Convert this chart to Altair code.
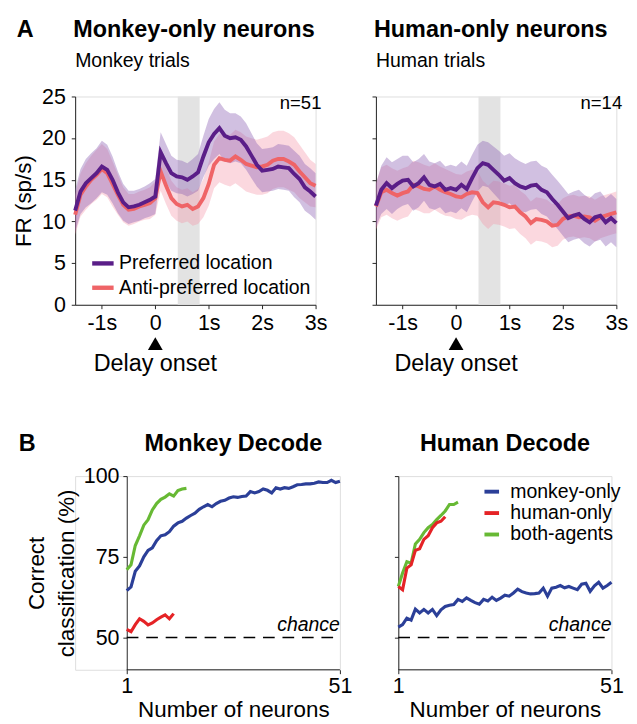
import altair as alt
import pandas as pd

FONT = "Liberation Sans"
PURPLE = "#5a1e88"
SALMON = "#ef6467"
PURPLE_BAND = "#8b62b3"
SALMON_BAND = "#f48fa3"
BLUE = "#2b3f98"
RED = "#e52326"
GREEN = "#67b934"

# ---------------- Panel A data (firing rate, sp/s) ----------------
TIME = [-1.5, -1.4, -1.3, -1.2, -1.1, -1.0, -0.9, -0.8, -0.7, -0.6, -0.5, -0.4, -0.3, -0.2, -0.1,
        0.0, 0.1, 0.2, 0.3, 0.4, 0.5, 0.6, 0.7, 0.8, 0.9, 1.0, 1.1, 1.2, 1.3, 1.4, 1.5, 1.6, 1.7,
        1.8, 1.9, 2.0, 2.1, 2.2, 2.3, 2.4, 2.5, 2.6, 2.7, 2.8, 2.9, 3.0]

MONKEY_PREF = [11.3, 13.6, 14.6, 15.2, 15.8, 16.6, 16.2, 15.0, 13.5, 12.3, 11.7, 11.8, 12.0, 12.3, 12.6,
               13.0, 18.3, 17.0, 15.8, 15.4, 15.3, 15.0, 15.4, 15.9, 17.8,
               19.5, 20.5, 21.2, 20.3, 20.0, 20.1, 19.8, 19.0, 17.9, 16.8,
               16.1, 16.2, 16.3, 16.6, 16.5, 16.4, 15.7, 15.1, 14.1, 13.6, 13.0]
MONKEY_ANTI = [10.8, 13.2, 14.2, 15.0, 15.6, 16.3, 15.8, 14.5, 13.2, 12.0, 11.4, 11.5, 11.8, 12.0, 12.2,
               12.8, 16.0, 14.3, 12.8, 12.1, 11.8, 12.0, 11.5, 11.8, 12.8,
               14.5, 16.8, 17.6, 17.4, 17.3, 17.8, 17.4, 16.9, 16.7, 16.5,
               16.6, 16.8, 17.3, 17.5, 17.5, 17.2, 16.8, 16.0, 15.3, 14.6, 14.3]
MONKEY_PREF_SEM = [2.5, 2.7, 2.9, 3.0, 3.0, 3.1, 3.0, 2.8, 2.5, 2.2, 2.0, 1.9, 1.9, 1.9, 2.0,
                   2.1, 2.4, 2.3, 2.1, 2.0, 2.0, 2.0, 2.1, 2.2, 2.5,
                   2.8, 3.0, 3.1, 3.1, 3.0, 2.9, 2.8, 2.8, 2.7, 2.6,
                   2.6, 2.6, 2.6, 2.7, 2.7, 2.7, 2.8, 2.8, 2.8, 2.8, 2.8]
MONKEY_ANTI_SEM = [2.4, 2.6, 2.8, 2.9, 3.0, 3.0, 2.9, 2.7, 2.4, 2.1, 1.9, 1.8, 1.8, 1.8, 1.9,
                   2.0, 2.3, 2.2, 2.1, 2.0, 2.0, 2.0, 2.0, 2.1, 2.3,
                   2.6, 2.8, 2.9, 3.0, 3.1, 3.2, 3.3, 3.3, 3.3, 3.3,
                   3.4, 3.4, 3.4, 3.4, 3.4, 3.4, 3.3, 3.2, 3.0, 2.8, 2.6]

HUMAN_PREF = [11.9, 13.8, 14.6, 14.0, 14.5, 14.9, 15.0, 14.2, 14.6, 15.3, 14.4, 14.2, 14.5, 13.8, 14.0,
              13.8, 14.4, 13.9, 15.2, 16.4, 17.0, 16.8, 16.2, 15.6, 14.9,
              15.2, 14.6, 14.2, 14.0, 14.3, 14.4, 13.8, 13.5, 12.7, 12.0,
              11.2, 10.4, 10.7, 10.9, 10.3, 9.9, 10.5, 10.7, 9.9, 10.4, 9.8]
HUMAN_ANTI = [11.8, 13.5, 13.8, 13.4, 13.1, 13.4, 13.6, 14.4, 14.2, 13.9, 13.8, 14.2, 13.8, 13.5, 13.3,
              13.0, 12.9, 13.3, 13.5, 13.4, 12.3, 11.7, 12.3, 12.2, 12.0,
              11.7, 11.8, 11.1, 10.6, 9.8, 10.3, 10.2, 10.0, 9.5, 9.6,
              10.3, 10.6, 10.7, 10.5, 10.6, 10.5, 10.1, 10.5, 10.7, 10.9, 11.1]
HUMAN_PREF_SEM = [2.6, 2.9, 3.1, 3.1, 3.0, 3.0, 2.9, 2.9, 2.9, 2.8, 2.8, 2.8, 2.8, 2.8, 2.8,
                  2.8, 2.8, 2.8, 2.8, 2.8, 2.7, 2.7, 2.8, 2.9, 3.0,
                  3.0, 3.0, 3.0, 2.9, 2.9, 2.9, 2.9, 2.9, 2.9, 2.9,
                  2.9, 2.9, 2.9, 2.9, 2.9, 2.9, 2.9, 2.9, 2.9, 2.9, 2.9]
HUMAN_ANTI_SEM = [2.8, 3.0, 3.0, 3.0, 3.0, 3.0, 3.0, 2.9, 2.9, 2.9, 2.8, 2.8, 2.8, 2.8, 2.7,
                  2.7, 2.7, 2.7, 2.7, 2.7, 2.6, 2.6, 2.6, 2.6, 2.6,
                  2.6, 2.6, 2.6, 2.6, 2.6, 2.6, 2.6, 2.6, 2.6, 2.5,
                  2.5, 2.5, 2.5, 2.5, 2.5, 2.5, 2.5, 2.5, 2.5, 2.5, 2.5]

COND = ["Preferred location", "Anti-preferred location"]
CUE_WINDOW = [0.42, 0.83]

# ---------------- Panel B data (decoding accuracy, %) ----------------
NEURONS = list(range(1, 52))
GROUPS = ["monkey-only", "human-only", "both-agents"]

MD_MONKEY = [64.5, 65.7, 70.5, 72.2, 75.0, 77.0, 77.8, 80.0, 81.5, 81.8,
             82.8, 84.5, 85.5, 86.0, 87.0, 87.8, 88.5, 89.7, 90.5, 91.2,
             90.5, 91.5, 92.2, 92.5, 93.2, 93.6, 93.4, 93.7, 93.8, 95.2,
             94.8, 95.2, 96.0, 95.6, 94.8, 96.4, 96.0, 96.4, 96.2, 96.7,
             97.3, 97.4, 97.6, 97.6, 97.8, 98.2, 98.0, 98.0, 98.7, 98.0, 98.4]
MD_HUMAN = [52.5, 51.8, 54.0, 55.8, 55.0, 53.9, 54.5, 55.5, 56.3, 57.0, 55.8, 57.4]
MD_BOTH = [71.0, 72.5, 78.5, 81.5, 84.8, 86.5, 89.5, 91.5, 92.8, 93.5, 94.5, 93.8, 95.5, 96.0, 96.2]

HD_MONKEY = [53.2, 54.0, 56.0, 55.4, 58.8, 57.6, 58.7, 57.6, 58.7, 56.8,
             58.6, 59.6, 60.0, 60.2, 61.8, 61.2, 62.3, 61.5, 60.8, 60.3,
             61.8, 61.3, 62.5, 61.5, 62.2, 63.1, 62.8, 63.8, 65.0, 64.2,
             63.8, 63.5, 63.6, 63.8, 65.3, 62.8, 65.3, 65.6, 66.1, 65.4,
             65.8, 65.3, 64.8, 66.5, 66.8, 64.3, 66.0, 67.1, 65.3, 66.1, 67.1]
HD_HUMAN = [65.8, 64.8, 71.5, 72.5, 77.0, 77.5, 80.4, 81.5, 84.0, 85.5, 86.0, 87.4]
HD_BOTH = [65.8, 70.0, 73.5, 73.0, 79.0, 80.4, 82.5, 84.0, 85.0, 86.5, 87.8, 89.2, 91.2, 91.2, 91.9]

CHANCE = 50
N_MIN, N_MAX = 1, 51
ACC_MIN, ACC_MAX = 40, 100

A_W, A_H = 247, 214
B_W, B_H = 219, 199
B_SHIFT = 53   # extra room on the left of the lower-left panel (its axis sits further right)


def axis_common(**kw):
    base = dict(grid=False, domainColor="#222222", tickColor="#222222", labelColor="black",
                titleColor="black", labelFont=FONT, titleFont=FONT, titleFontWeight="normal",
                tickSize=4, labelFlush=False)
    base.update(kw)
    return alt.Axis(**base)


def label_text(text, x, y, size, weight="normal", align="left", style="normal", baseline="alphabetic"):
    return alt.Chart(pd.DataFrame({"lab": [text]})).mark_text(
        align=align, baseline=baseline, fontSize=size, fontWeight=weight, fontStyle=style,
        font=FONT, color="black").encode(x=alt.value(x), y=alt.value(y), text="lab:N")


def a_panel(pref, anti, sp, sa, title, subtitle, nlabel, left):
    df = pd.DataFrame({
        "t": TIME + TIME,
        "cond": [COND[0]] * len(TIME) + [COND[1]] * len(TIME),
        "fr": pref + anti,
        "sem": sp + sa,
    })
    df["lo"] = df["fr"] - df["sem"]
    df["hi"] = df["fr"] + df["sem"]

    xs = alt.Scale(domain=[-1.5, 3], nice=False, zero=False)
    ys = alt.Scale(domain=[0, 25], nice=False, zero=False)
    xaxis = axis_common(values=[-1, 0, 1, 2, 3], title=None, labelFontSize=22, labelPadding=4,
                        labelExpr="datum.value == 0 ? '0' : datum.value + 's'")
    yaxis = axis_common(values=[0, 5, 10, 15, 20, 25], labels=left,
                        title="FR (sp/s)" if left else None, labelFontSize=22, labelPadding=6,
                        titleFontSize=23, titlePadding=6)
    X = alt.X("t:Q", scale=xs, axis=xaxis)

    shade = alt.Chart(pd.DataFrame({"s": [CUE_WINDOW[0]], "e": [CUE_WINDOW[1]]})).mark_rect(
        color="#e3e3e3").encode(x=alt.X("s:Q", scale=xs, axis=xaxis), x2="e:Q")

    band_anti = alt.Chart(df).transform_filter(alt.datum.cond == COND[1]).mark_area(
        color=SALMON_BAND, opacity=0.35).encode(
        x=X, y=alt.Y("lo:Q", scale=ys, axis=yaxis), y2="hi:Q")
    band_pref = alt.Chart(df).transform_filter(alt.datum.cond == COND[0]).mark_area(
        color=PURPLE_BAND, opacity=0.4).encode(
        x=X, y=alt.Y("lo:Q", scale=ys, axis=yaxis), y2="hi:Q")

    stroke_scale = alt.Scale(domain=COND, range=[PURPLE, SALMON])
    if left:
        leg = alt.Legend(orient="none", legendX=15, legendY=158, title=None, symbolType="stroke",
                         symbolStrokeWidth=4.5, symbolSize=484, labelFontSize=20, labelFont=FONT,
                         labelColor="black", rowPadding=1, labelOffset=3, padding=0,
                         labelLimit=400)
    else:
        leg = None
    lines = []
    for c in [COND[1], COND[0]]:
        lines.append(alt.Chart(df).transform_filter(alt.datum.cond == c).mark_line(
            strokeWidth=4).encode(
            x=X, y=alt.Y("fr:Q", scale=ys, axis=yaxis),
            stroke=alt.Stroke("cond:N", scale=stroke_scale, legend=leg)))

    nlab = alt.Chart(pd.DataFrame({"lab": [nlabel]})).mark_text(
        align="right", baseline="middle", fontSize=19, font=FONT, color="black", dx=6).encode(
        x=alt.datum(3), y=alt.datum(24.2), text="lab:N")

    tri = alt.Chart(pd.DataFrame({"t0": [0]})).mark_point(
        shape="triangle-up", filled=True, color="black", opacity=1, size=230).encode(
        x=alt.X("t0:Q", scale=xs, axis=xaxis), y=alt.value(A_H + 40))
    onset = alt.Chart(pd.DataFrame({"t0": [0], "lab": ["Delay onset"]})).mark_text(
        baseline="middle", align="center", fontSize=24, font=FONT, color="black").encode(
        x=alt.X("t0:Q", scale=xs, axis=xaxis), y=alt.value(A_H + 61), text="lab:N")

    layers = [shade, band_anti, band_pref] + lines + [nlab, tri, onset]
    layers.append(label_text(title, -2, -61, 24, weight="bold"))
    layers.append(label_text(subtitle, 0, -30, 20))
    if left:
        layers.append(label_text("A", -60, -61, 24, weight="bold"))

    return alt.layer(*layers).properties(width=A_W, height=A_H)


def b_panel(monkey, human, both, title, left, legend):
    recs = []
    for g, vals in zip(GROUPS, [monkey, human, both]):
        for n, v in zip(NEURONS, vals):
            recs.append({"n": n, "acc": v, "grp": g})
    df = pd.DataFrame(recs)

    shift = B_SHIFT if left else 0
    width = B_W + shift
    x_lo = N_MIN - shift * (N_MAX - N_MIN) / B_W
    xs = alt.Scale(domain=[x_lo, N_MAX], nice=False, zero=False)
    ys = alt.Scale(domain=[ACC_MIN, ACC_MAX], nice=False, zero=False)
    xaxis = axis_common(values=[N_MIN, N_MAX], title="Number of neurons", titleFontSize=23,
                        titlePadding=3, labelFontSize=22, labelPadding=2, domain=False,
                        titleX=shift + B_W / 2)
    yaxis = axis_common(values=[50, 75, 100], labels=left,
                        title=["Correct", "classification (%)"] if left else None,
                        labelFontSize=22, labelPadding=4, titleFontSize=23,
                        titleLineHeight=31, titlePadding=5, offset=-shift)
    X = alt.X("n:Q", scale=xs, axis=xaxis)
    Y = alt.Y("acc:Q", scale=ys, axis=yaxis)

    sc = alt.Scale(domain=GROUPS, range=[BLUE, RED, GREEN])
    if legend:
        leg = alt.Legend(orient="none", legendX=86, legendY=6, title=None, symbolType="stroke",
                         symbolStrokeWidth=4, symbolSize=225, labelFontSize=20, labelFont=FONT,
                         labelColor="black", rowPadding=2, labelOffset=9, padding=0,
                         labelLimit=400)
    else:
        leg = None

    baseline = alt.Chart(pd.DataFrame({"a": [N_MIN], "b": [N_MAX], "c": [ACC_MIN]})).mark_rule(
        color="#222222", strokeWidth=1).encode(
        x=alt.X("a:Q", scale=xs, axis=xaxis), x2="b:Q", y=alt.Y("c:Q", scale=ys, axis=yaxis))
    chance_rule = alt.Chart(pd.DataFrame({"a": [N_MIN], "b": [N_MAX], "c": [CHANCE]})).mark_rule(
        color="black", strokeWidth=1.6, strokeDash=[12, 8]).encode(
        x=alt.X("a:Q", scale=xs, axis=xaxis), x2="b:Q", y=alt.Y("c:Q", scale=ys, axis=yaxis))
    chance_txt = alt.Chart(pd.DataFrame({"lab": ["chance"]})).mark_text(
        align="right", baseline="bottom", fontSize=20, fontStyle="italic", font=FONT,
        color="black", dy=-3).encode(x=alt.datum(N_MAX), y=alt.datum(CHANCE), text="lab:N")

    lines = []
    for g in ["monkey-only", "both-agents", "human-only"]:
        lines.append(alt.Chart(df).transform_filter(alt.datum.grp == g).mark_line(
            strokeWidth=3.2).encode(x=X, y=Y, stroke=alt.Stroke("grp:N", scale=sc, legend=leg)))

    layers = [baseline, chance_rule, chance_txt] + lines
    layers.append(label_text(title, shift + B_W / 2, -26, 24, weight="bold", align="center"))
    if left:
        layers.append(label_text("B", shift - 111, -26, 24, weight="bold"))

    return alt.layer(*layers).properties(width=width, height=B_H)


a_left = a_panel(MONKEY_PREF, MONKEY_ANTI, MONKEY_PREF_SEM, MONKEY_ANTI_SEM,
                 "Monkey-only neurons", "Monkey trials", "n=51", True)
a_right = a_panel(HUMAN_PREF, HUMAN_ANTI, HUMAN_PREF_SEM, HUMAN_ANTI_SEM,
                  "Human-only neurons", "Human trials", "n=14", False)
b_left = b_panel(MD_MONKEY, MD_HUMAN, MD_BOTH, "Monkey Decode", True, False)
b_right = b_panel(HD_MONKEY, HD_HUMAN, HD_BOTH, "Human Decode", False, True)

row_a = alt.hconcat(a_left, a_right, spacing=40, bounds="full").resolve_scale(
    stroke="independent").resolve_legend(stroke="independent")
row_b = alt.hconcat(b_left, b_right, spacing=40, bounds="full").resolve_scale(
    stroke="independent").resolve_legend(stroke="independent")

chart = alt.concat(row_a, row_b, columns=1, align="none", bounds="full", spacing=56).resolve_scale(
    stroke="independent").resolve_legend(stroke="independent").properties(
    padding={"left": 5, "top": 0, "right": 0, "bottom": 0}).configure_view(
    stroke=None).configure(font=FONT, background="white")

chart.save("out.html", embed_options={"renderer": "svg", "actions": False})
